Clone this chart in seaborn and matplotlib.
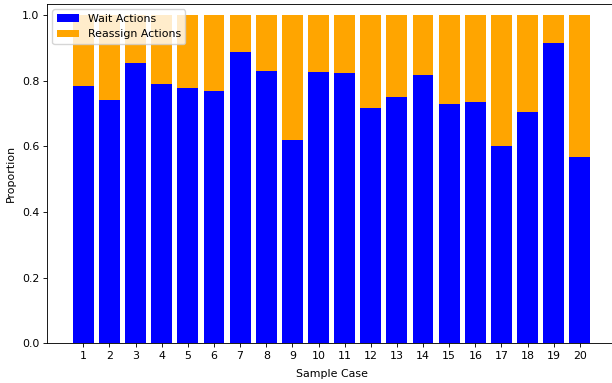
import matplotlib
matplotlib.use("Agg")
import matplotlib.pyplot as plt
import seaborn as sns
import pandas as pd

# Per-case share of wait vs. reassign actions
cases = [str(i) for i in range(1, 21)]
wait_share = [0.784, 0.742, 0.855, 0.791, 0.776, 0.769, 0.888, 0.828, 0.619, 0.826,
              0.823, 0.718, 0.749, 0.817, 0.729, 0.734, 0.602, 0.705, 0.914, 0.567]
reassign_share = [1 - w for w in wait_share]

df = pd.DataFrame({"case": cases, "wait": wait_share, "reassign": reassign_share})

# Compact sizing for a small figure
k = 0.79
plt.rcParams.update({
    "font.size": 10 * k,
    "axes.linewidth": 0.8 * k,
    "xtick.major.width": 0.8 * k,
    "ytick.major.width": 0.8 * k,
    "xtick.major.size": 3.5 * k,
    "ytick.major.size": 3.5 * k,
    "xtick.major.pad": 3.5 * k,
    "ytick.major.pad": 3.5 * k,
    "axes.labelpad": 4 * k,
})

fig = plt.figure(figsize=(6.12, 3.83), dpi=100)
ax = fig.add_axes([0.0768, 0.1037, 0.930, 0.886])

sns.barplot(data=df, x="case", y="wait", color="blue", saturation=1,
            width=0.8, ax=ax, linewidth=0)
sns.barplot(data=df, x="case", y="reassign", bottom=df["wait"], color="orange",
            saturation=1, width=0.8, ax=ax, linewidth=0)

ax.set_xlim(-1.39, 20.39)
ax.set_ylim(0, 1.0335)
ax.set_xlabel("Sample Case", labelpad=5.5)
ax.set_ylabel("Proportion", labelpad=4.5)
ax.legend(ax.containers[:2], ["Wait Actions", "Reassign Actions"], loc="upper left")

fig.savefig("out.png", dpi=100)
